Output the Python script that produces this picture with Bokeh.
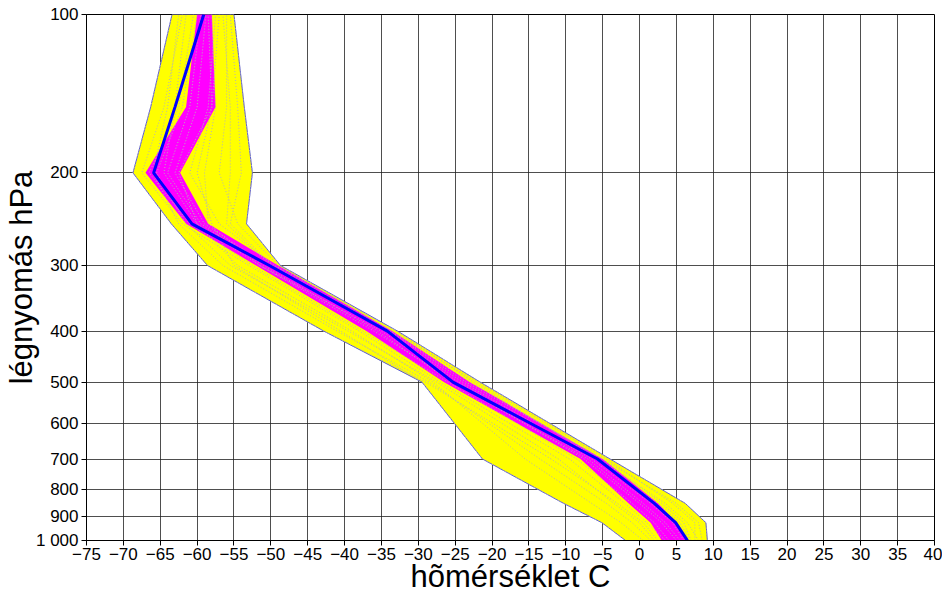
from bokeh.plotting import figure
from bokeh.models import Range1d, FixedTicker, CustomJSTickFormatter
from bokeh.embed import file_html
from bokeh.resources import INLINE

# pressure levels (hPa)
levels = [1000, 925, 850, 700, 500, 400, 300, 250, 200, 150, 100]

# ensemble envelope (min / max temperature, C)
env_min = [-1.9, -5.1, -10.3, -21.3, -29.5, -42.8, -58.6, -63.5, -68.7, -66.3, -63.4]
env_max = [9.2, 9.0, 6.2, -4.0, -21.6, -32.8, -48.7, -53.3, -52.5, -53.6, -55.0]

# inner band (magenta)
band_lo = [3.0, 1.5, -1.5, -8.0, -26.5, -37.0, -52.0, -61.5, -67.0, -61.5, -60.0]
band_hi = [6.3, 5.0, 2.5, -5.0, -23.0, -33.5, -49.0, -58.5, -62.3, -57.5, -58.0]

# control run (blue)
control = [6.5, 4.9, 2.0, -5.7, -25.3, -34.2, -50.2, -60.7, -65.9, -63.0, -59.1]

# ensemble members (grey dotted)
m01 = [8.0, 6.5, 3.5, -5.5, -22.5, -33.0, -48.7, -53.3, -52.5, -53.6, -55.0]
m02 = [2.5, 0.5, -3.0, -12.0, -29.0, -42.8, -58.6, -63.5, -68.7, -66.3, -63.4]
m03 = [-1.9, -5.1, -10.3, -21.3, -29.5, -40.5, -55.0, -58.0, -60.0, -58.0, -57.0]
m04 = [9.2, 9.0, 6.2, -4.0, -21.6, -32.8, -49.5, -57.0, -61.0, -58.5, -57.5]
m05 = [5.5, 3.5, 0.5, -7.0, -25.5, -35.5, -51.0, -59.5, -64.0, -61.0, -59.5]
m06 = [4.0, 2.0, -1.0, -8.5, -26.0, -37.5, -52.5, -61.0, -66.5, -62.5, -60.5]
m07 = [7.0, 6.0, 3.0, -5.0, -23.5, -34.0, -50.0, -56.0, -55.5, -55.5, -56.5]
m08 = [0.5, -2.5, -6.5, -15.5, -28.0, -39.0, -54.5, -60.0, -64.5, -63.0, -61.5]
m09 = [6.0, 4.5, 1.5, -6.5, -24.5, -35.0, -51.5, -60.0, -62.5, -58.0, -58.5]
m10 = [3.5, 1.0, -2.0, -9.5, -27.0, -38.0, -53.0, -62.0, -67.5, -64.5, -62.0]
m11 = [7.5, 7.5, 4.5, -4.5, -22.0, -33.5, -49.0, -54.5, -57.0, -56.0, -56.0]
m12 = [1.5, -1.0, -4.5, -13.5, -28.5, -41.0, -56.5, -62.5, -66.0, -64.0, -62.5]
m13 = [5.0, 3.0, 0.0, -7.5, -25.0, -36.0, -51.5, -58.5, -59.0, -57.5, -58.0]
m14 = [6.8, 5.5, 2.5, -6.0, -24.0, -34.5, -50.5, -59.0, -63.0, -60.0, -58.8]
m15 = [2.0, 0.0, -3.5, -11.0, -27.5, -39.5, -55.5, -61.5, -65.5, -62.0, -60.0]
m16 = [8.5, 8.0, 5.0, -5.0, -23.0, -33.8, -49.8, -55.5, -54.0, -54.5, -55.5]
members = [m01, m02, m03, m04, m05, m06, m07, m08, m09, m10, m11, m12, m13, m14, m15, m16]

x_ticks = [-75, -70, -65, -60, -55, -50, -45, -40, -35, -30, -25, -20, -15, -10,
           -5, 0, 5, 10, 15, 20, 25, 30, 35, 40]
y_ticks = [100, 200, 300, 400, 500, 600, 700, 800, 900, 1000]

FONT = "Liberation Sans"

p = figure(width=942, height=597,
           x_range=Range1d(-75, 40), y_range=Range1d(1000, 100),
           y_axis_type="log", output_backend="svg", toolbar_location=None,
           min_border_left=86, min_border_top=14, min_border_right=8,
           min_border_bottom=57)
p.background_fill_color = "white"
p.border_fill_color = "white"
p.outline_line_color = "black"
p.outline_line_width = 1

p.patch(env_min + env_max[::-1], levels + levels[::-1],
        fill_color="#ffff00", line_color="#5a5ad8", line_width=1)
p.patch(band_lo + band_hi[::-1], levels + levels[::-1],
        fill_color="#ff00ff", line_color=None)
for m in members:
    p.line(m, levels, line_color="#b4b4b4", line_dash="1 2", line_width=1)
p.line(control, levels, line_color="#0000ff", line_width=3)

p.xaxis.ticker = FixedTicker(ticks=x_ticks)
p.yaxis.ticker = FixedTicker(ticks=y_ticks)
p.yaxis.formatter = CustomJSTickFormatter(
    code='return String(Math.round(tick)).replace(/\\B(?=(\\d{3})+(?!\\d))/g, " ");')

p.grid.grid_line_color = "#222222"
p.grid.grid_line_alpha = 0.8
p.grid.grid_line_width = 1

for ax in (p.xaxis, p.yaxis):
    ax.axis_line_color = "black"
    ax.major_tick_line_color = "black"
    ax.major_tick_out = 5
    ax.major_tick_in = 0
    ax.minor_tick_line_color = None
    ax.major_label_text_font = FONT
    ax.major_label_text_font_size = "17px"
    ax.major_label_text_color = "black"
    ax.axis_label_text_font = FONT
    ax.axis_label_text_font_size = "31px"
    ax.axis_label_text_font_style = "normal"
    ax.axis_label_text_color = "black"

p.xaxis.major_label_standoff = 2
p.yaxis.major_label_standoff = 3
p.xaxis.axis_label_standoff = -4
p.yaxis.axis_label_standoff = -6
p.xaxis.axis_label = "hõmérséklet C"
p.yaxis.axis_label = "légnyomás hPa"

open("out.html", "w").write(file_html(p, INLINE))
